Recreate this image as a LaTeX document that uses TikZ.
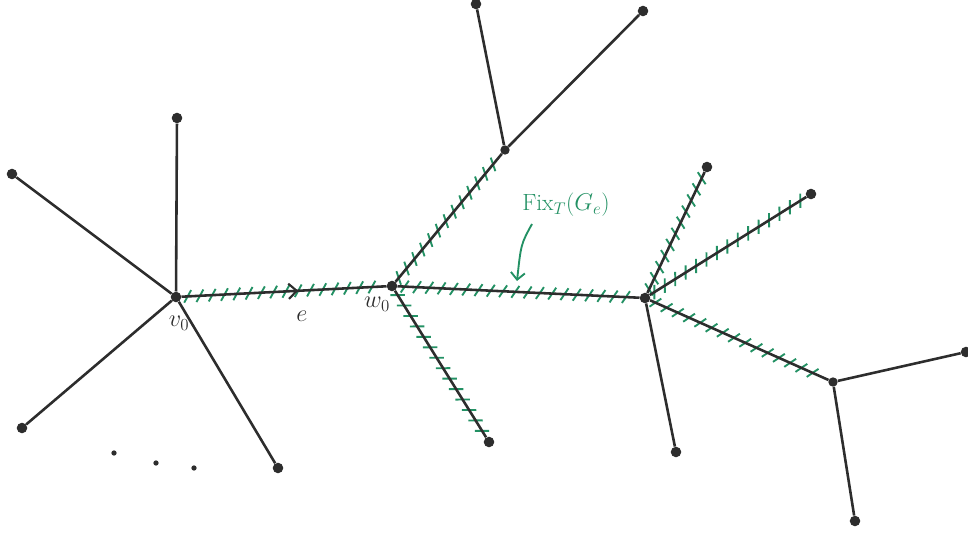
\documentclass[tikz,border=0pt]{standalone}
\usetikzlibrary{decorations.markings,arrows.meta}
\definecolor{ink}{RGB}{45,45,45}
\definecolor{hatchc}{RGB}{35,145,100}
\tikzset{
  dot/.style={circle,fill=ink,inner sep=0pt,minimum size=9pt},
  smalldot/.style={circle,fill=ink,inner sep=0pt,minimum size=4.5pt},
  edge/.style={draw=ink,line width=2.2pt},
  hatched/.style={preaction={decorate,decoration={markings,
     mark=between positions 0.03 and 0.97 step 10.5pt with {\draw[hatchc,line width=1.6pt] (-3.2pt,-5.2pt) -- (3.2pt,5.2pt);}}}},
  lbl/.style={text=ink,font=\fontsize{21}{25}\selectfont},
}
\begin{document}
\begin{tikzpicture}[x=0.03cm,y=-0.03cm]
\useasboundingbox (0,0) rectangle (968,533);
% vertices
\node[dot] (v0) at (176,297) {};
\node[dot] (a1) at (12,174) {};
\node[dot] (a2) at (177,118) {};
\node[dot] (a3) at (22,428) {};
\node[dot] (a4) at (278,468) {};
\node[dot] (w0) at (392,286) {};
\node[dot,minimum size=8pt] (u1) at (505,150) {};
\node[dot] (b1) at (476,4) {};
\node[dot] (b2) at (643,11) {};
\node[dot] (c1) at (489,442) {};
\node[dot] (r) at (645,298) {};
\node[dot] (d1) at (707,167) {};
\node[dot] (d2) at (811,194) {};
\node[dot] (d4) at (676,452) {};
\node[dot,minimum size=8pt] (s) at (833,382) {};
\node[dot] (e1) at (966,352) {};
\node[dot] (e2) at (855,521) {};
% plain edges
\draw[edge] (v0) -- (a1);
\draw[edge] (v0) -- (a2);
\draw[edge] (v0) -- (a3);
\draw[edge] (v0) -- (a4);
\draw[edge] (u1) -- (b1);
\draw[edge] (u1) -- (b2);
\draw[edge] (r) -- (d4);
\draw[edge] (s) -- (e1);
\draw[edge] (s) -- (e2);
% hatched edges (fixed subtree)
\draw[edge,hatched,postaction={decorate,decoration={markings,
   mark=at position 0.57 with {\arrow[ink,line width=1.8pt]{Straight Barb[length=7pt,width=13pt]}}}}] (v0) -- (w0);
\draw[edge,hatched] (w0) -- (u1);
\draw[edge,hatched] (w0) -- (c1);
\draw[edge,hatched] (w0) -- (r);
\draw[edge,hatched] (r) -- (d1);
\draw[edge,hatched] (r) -- (d2);
\draw[edge,hatched] (r) -- (s);
% labels
\node[lbl] (lv) at (179,323) {$v_0$};
\node[lbl] (le) at (302,316) {$e$};
\node[lbl] (lw) at (377,304) {$w_0$};
\node[text=hatchc,font=\fontsize{20}{24}\selectfont] (fix) at (566,205) {Fix$_T$($G_e$)};
\coordinate (fa) at (532,224);
\coordinate (fb) at (517,281);
\draw[hatchc,line width=1.6pt,-{Straight Barb[length=6pt,width=12pt]}] (fa) .. controls (521,244) .. (fb);
% dots
\node[smalldot] (p1) at (114,453) {};
\node[smalldot] (p2) at (156,463) {};
\node[smalldot] (p3) at (194,468) {};
\end{tikzpicture}
\end{document}
